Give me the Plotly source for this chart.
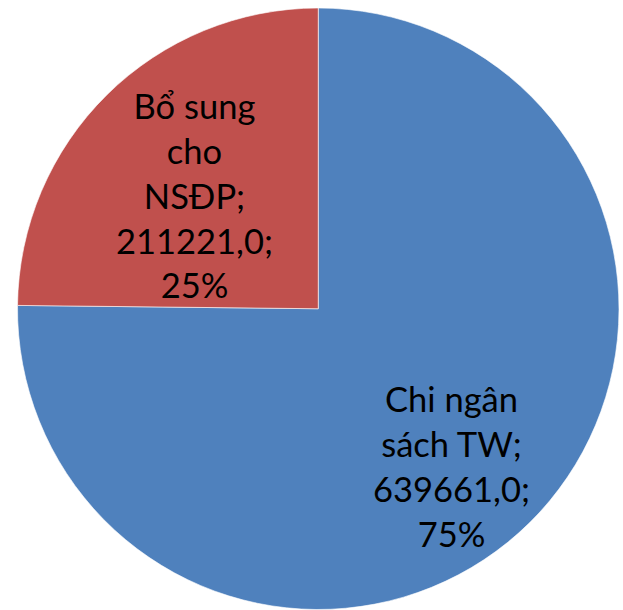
import plotly.graph_objects as go

labels = ["Chi ngân sách TW", "Bổ sung cho NSĐP"]
label_lines = [["Chi ngân", "sách TW;"], ["Bổ sung", "cho", "NSĐP;"]]
values = [639661.0, 211221.0]
colors = ["#4F81BD", "#C0504D"]

total = sum(values)

fig = go.Figure()
fig.add_trace(go.Pie(
    labels=labels,
    values=values,
    sort=False,
    direction="clockwise",
    rotation=0,
    textinfo="none",
    hoverinfo="label+value+percent",
    marker=dict(colors=colors, line=dict(color="rgba(255,255,255,0.6)", width=1)),
    domain=dict(x=[17.5 / 623, 619 / 623], y=[0, 602.5 / 610]),
    showlegend=False,
))

positions = [(451 / 623, 1 - 466 / 610), (194 / 623, 1 - 194.5 / 610)]
for lines, v, (px, py) in zip(label_lines, values, positions):
    val = f"{v:.1f}".replace(".", ",")
    pct = f"{round(v / total * 100)}%"
    text = "<br>".join(lines + [val + ";", pct])
    fig.add_annotation(
        x=px, y=py, xref="paper", yref="paper",
        text=text, showarrow=False,
        xanchor="center", yanchor="middle",
        font=dict(family="Lato", size=34.5, color="#000000"),
        align="center",
    )

fig.update_layout(
    width=623, height=610,
    margin=dict(l=0, r=0, t=0, b=0),
    paper_bgcolor="white",
    plot_bgcolor="white",
)

fig.write_html("out.html", config={"displayModeBar": False},
               post_script="document.body.style.margin='0';")
